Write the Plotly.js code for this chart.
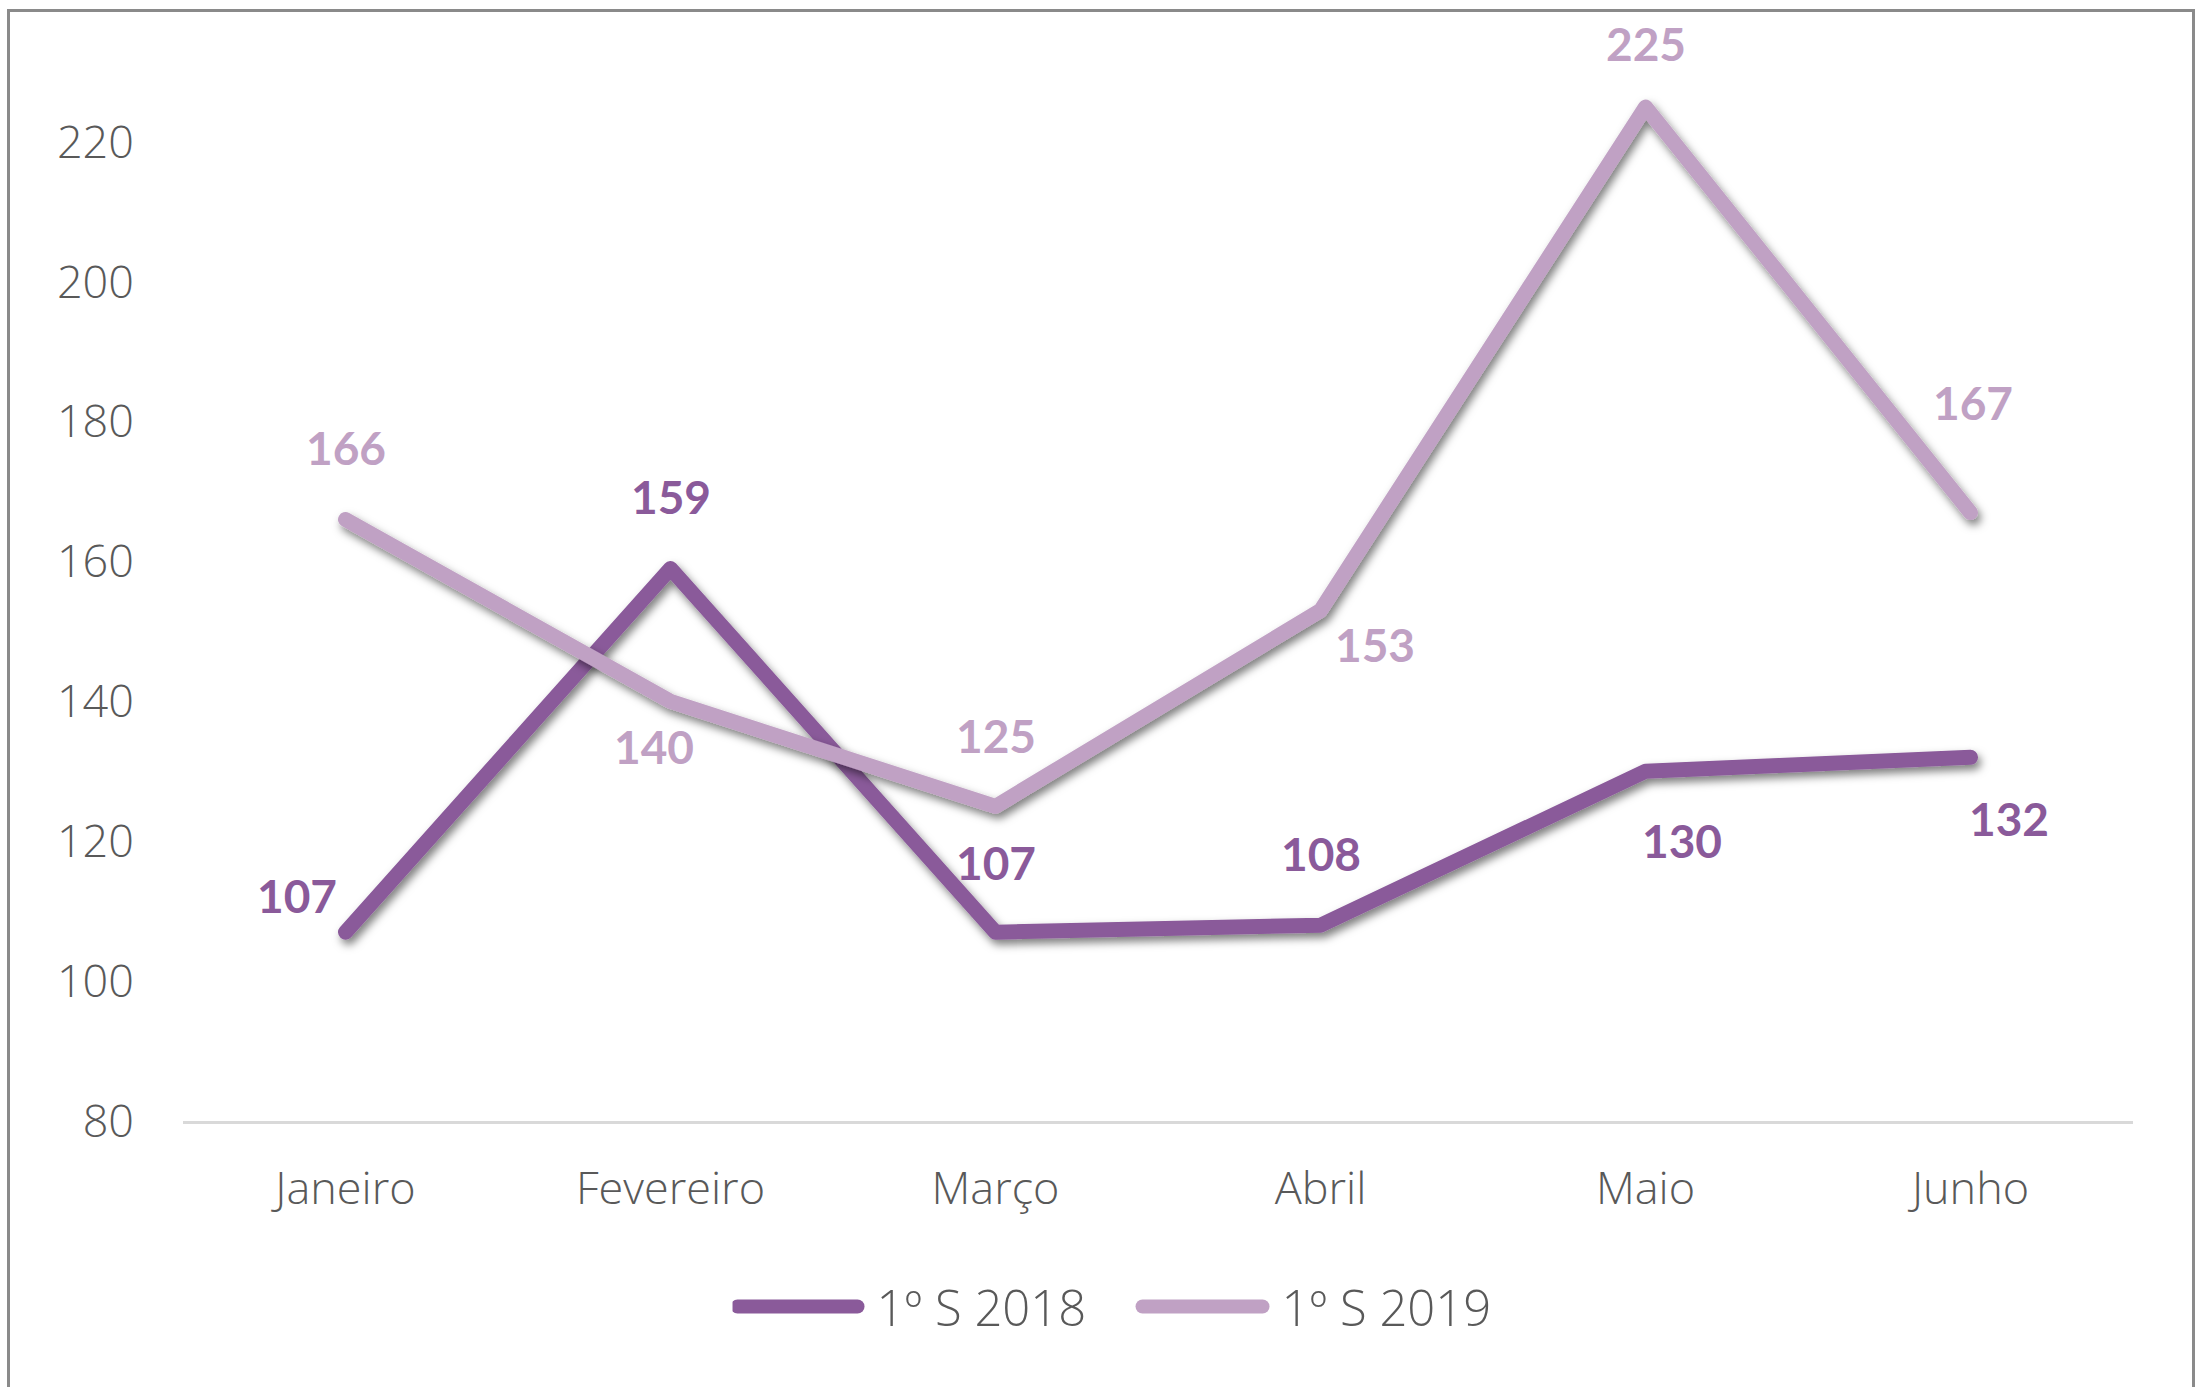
<!DOCTYPE html>
<html>
<head>
<meta charset="utf-8">
<script src="https://cdn.plot.ly/plotly-3.0.1.min.js"></script>
<style>
  html, body { margin: 0; padding: 0; background: #ffffff; }
  #wrap { position: relative; width: 2202px; height: 1387px; overflow: hidden; }
  #chart { position: absolute; left: 0; top: 0; width: 2202px; height: 1387px; }
  #frame { position: absolute; left: 7px; top: 9px; width: 2188px; height: 1420px;
           border: 3px solid #8a8a8a; pointer-events: none; box-sizing: border-box; }
</style>
</head>
<body>
<div id="wrap">
  <div id="chart"></div>
  <div id="frame"></div>
</div>
<script>
// ---- data ----
const months = ["Janeiro", "Fevereiro", "Março", "Abril", "Maio", "Junho"];
const seriesNames = ["1º S 2018", "1º S 2019"];
const values2018 = [107, 159, 107, 108, 130, 132];
const values2019 = [166, 140, 125, 153, 225, 167];
const yTicks = [80, 100, 120, 140, 160, 180, 200, 220];

// ---- styling ----
const darkPurple = "#8a5a9a";
const lightPurple = "#c0a1c4";
const textGray = "#595959";
const labelFont = "Lato, 'Open Sans', sans-serif";
const axisFont = "'Open Sans', Lato, sans-serif";

// label offsets in pixels [xshift, yshift]
const off2018 = [[-49, 37], [0, 72], [0, 70], [0, 72], [36, -69], [38, -61]];
const off2019 = [[0, 72], [-17, -45], [0, 71], [54, -34], [0, 63], [2, 110]];

const traces = [
  {
    x: months, y: values2018, name: seriesNames[0], type: "scatter", mode: "lines",
    line: { color: darkPurple, width: 15, shape: "linear" }, hoverinfo: "x+y"
  },
  {
    x: months, y: values2019, name: seriesNames[1], type: "scatter", mode: "lines",
    line: { color: lightPurple, width: 15, shape: "linear" }, hoverinfo: "x+y"
  }
];

const annotations = [];
function addLabels(vals, offs, color) {
  vals.forEach((v, i) => {
    annotations.push({
      x: months[i], y: v, xref: "x", yref: "y", text: String(v), showarrow: false,
      xanchor: "center", yanchor: "middle", xshift: offs[i][0], yshift: offs[i][1],
      font: { family: labelFont, size: 46, color: color, weight: 700 }
    });
  });
}
addLabels(values2019, off2019, lightPurple);
addLabels(values2018, off2018, darkPurple);

const layout = {
  width: 2202, height: 1387,
  margin: { l: 183, r: 69, t: 72, b: 266, pad: 0 },
  paper_bgcolor: "#ffffff", plot_bgcolor: "#ffffff",
  showlegend: true,
  legend: {
    orientation: "h", x: 0.4895, xanchor: "center", y: -0.177, yanchor: "middle",
    font: { family: axisFont, size: 49, color: textGray, weight: 300 },
    itemwidth: 120, entrywidth: 270, entrywidthmode: "pixels", tracegroupgap: 0
  },
  xaxis: {
    type: "category", range: [-0.5, 5.5], showgrid: false, zeroline: false,
    showline: true, linecolor: "#d9d9d9", linewidth: 3, ticks: "",
    tickfont: { family: axisFont, size: 45, color: textGray, weight: 300 },
    ticklabelstandoff: 26, fixedrange: true
  },
  yaxis: {
    range: [80, 230], tickvals: yTicks, ticktext: yTicks.map(String),
    showgrid: false, zeroline: false, showline: false, ticks: "",
    tickfont: { family: axisFont, size: 45, color: textGray, weight: 300 },
    ticklabelstandoff: 48, fixedrange: true
  },
  annotations: annotations
};

Plotly.newPlot("chart", traces, layout, { displayModeBar: false, staticPlot: true }).then(gd => {
  const svg = gd.querySelector("svg.main-svg");
  const ns = "http://www.w3.org/2000/svg";
  let defs = svg.querySelector("defs");
  if (!defs) { defs = document.createElementNS(ns, "defs"); svg.insertBefore(defs, svg.firstChild); }
  const f = document.createElementNS(ns, "filter");
  f.setAttribute("id", "lineShadow");
  f.setAttribute("x", "-10%"); f.setAttribute("y", "-10%");
  f.setAttribute("width", "120%"); f.setAttribute("height", "130%");
  const ds = document.createElementNS(ns, "feDropShadow");
  ds.setAttribute("dx", "3"); ds.setAttribute("dy", "5");
  ds.setAttribute("stdDeviation", "4");
  ds.setAttribute("flood-color", "#000000"); ds.setAttribute("flood-opacity", "0.5");
  f.appendChild(ds);
  defs.appendChild(f);
  gd.querySelectorAll(".scatterlayer .trace path.js-line").forEach(p => {
    p.setAttribute("filter", "url(#lineShadow)");
    p.style.strokeLinecap = "round";
    p.style.strokeLinejoin = "round";
  });
  gd.querySelectorAll(".legend .legendlines path").forEach(p => {
    p.style.strokeLinecap = "round";
    p.style.strokeWidth = "14px";
  });
  gd.querySelectorAll(".legend text.legendtext").forEach(t => {
    const x = parseFloat(t.getAttribute("x") || "0");
    t.setAttribute("x", String(x + 14));
  });
});
</script>
</body>
</html>
